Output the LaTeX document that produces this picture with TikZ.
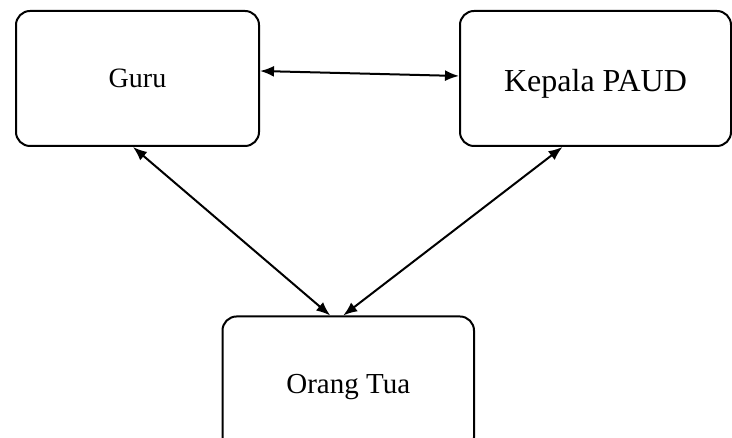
\documentclass[tikz,border=0pt]{standalone}
\usepackage{fontspec}
\setmainfont{Liberation Serif}
\usetikzlibrary{arrows.meta}
\tikzset{
  box/.style={draw,line width=2pt,rounded corners=14pt,text depth=0pt},
  link/.style={{Latex[length=14pt,width=11pt]}-{Latex[length=14pt,width=11pt]},line width=2pt}
}
\begin{document}
\begin{tikzpicture}[x=1pt,y=1pt]
  \useasboundingbox (0,0) rectangle (732,438);
  \begin{scope}
  \clip (0,0) rectangle (732,438);
  \node[box,minimum width=243pt,minimum height=135pt] (guru) at (137.5,359.5)
    {\fontsize{28}{33}\selectfont Guru};
  \node[box,minimum width=271pt,minimum height=135pt] (kepala) at (595.5,359.5)
    {\raisebox{-4pt}{\fontsize{32}{37}\selectfont Kepala PAUD}};
  \node[box,minimum width=251.5pt,minimum height=135pt] (ortu) at (348.25,54)
    {\fontsize{29}{34}\selectfont Orang Tua};
  \end{scope}

  \draw[link] ([yshift=7.5pt]guru.east) -- ([yshift=2.5pt]kepala.west);
  \draw[link] ([xshift=-4.5pt]guru.south) -- ([xshift=-18pt]ortu.north);
  \draw[link] ([xshift=-33pt]kepala.south) -- ([xshift=-5pt]ortu.north);
\end{tikzpicture}
\end{document}
